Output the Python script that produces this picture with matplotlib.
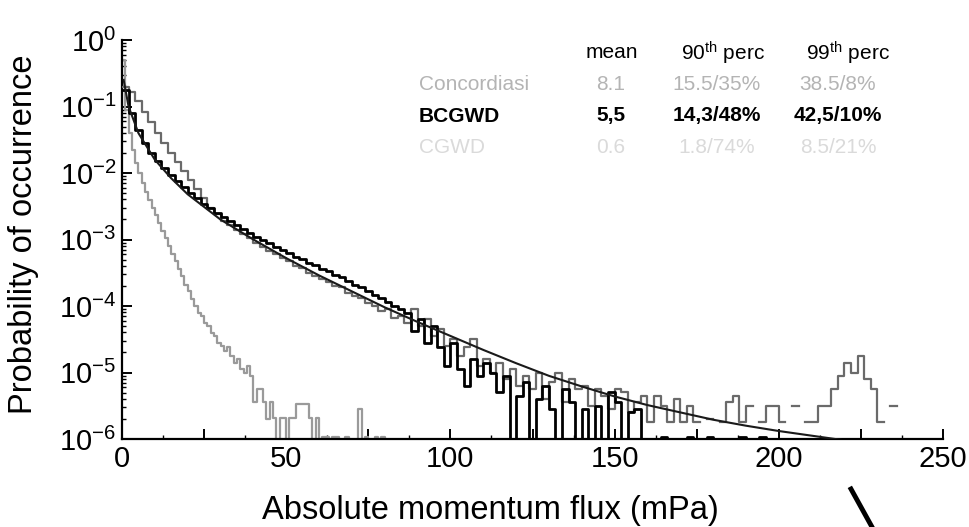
import numpy as np
import matplotlib
matplotlib.use("Agg")
import matplotlib.pyplot as plt
from matplotlib.ticker import MultipleLocator, LogLocator, FuncFormatter, NullFormatter
from matplotlib.lines import Line2D

plt.rcParams['font.family'] = ['Liberation Sans', 'DejaVu Sans']
plt.rcParams['mathtext.default'] = 'regular'

# log10 of the probability per 2 mPa bin, 0..236 mPa
bcgwd_log = [
    -0.75, -1.10, -1.35, -1.55, -1.70, -1.82, -1.93, -2.03, -2.12, -2.21,
    -2.30, -2.38, -2.46, -2.53, -2.60, -2.66, -2.72, -2.78, -2.84, -2.90,
    -2.96, -3.01, -3.06, -3.11, -3.16, -3.20, -3.26, -3.30, -3.35, -3.39,
    -3.44, -3.48, -3.53, -3.57, -3.62, -3.68, -3.72, -3.78, -3.83, -3.88,
    -3.94, -4.00, -4.05, -4.10, -4.38, -4.20, -4.55, -4.30, -4.62, -4.90,
    -4.55, -4.95, -5.20, -4.80, -5.05, -4.85, -5.00, -5.30, -5.05, -6.50,
    -5.35, -5.15, -6.50, -5.40, -5.20, -5.55, -6.50, -5.25, -5.45, -6.50,
    -5.55, -6.50, -5.50, -6.50, -5.30, -5.45, -6.50, -5.60, -5.55, -6.50,
    -6.50, -6.50, -5.97, -6.50, -6.50, -6.50, -5.97, -6.50, -6.50, -5.97,
    -6.50, -6.50, -6.50, -6.50, -5.97, -6.50, -6.50, -5.97, -6.50, -6.50,
    np.nan, np.nan, np.nan, np.nan, np.nan, np.nan, np.nan, np.nan, np.nan, np.nan,
    np.nan, np.nan, np.nan, np.nan, np.nan, np.nan, np.nan, np.nan,
]

concordiasi_log = [
    -0.70, -0.78, -0.92, -1.08, -1.24, -1.40, -1.55, -1.70, -1.84, -1.97,
    -2.10, -2.24, -2.38, -2.52, -2.62, -2.72, -2.78, -2.86, -2.92, -2.98,
    -3.05, -3.12, -3.18, -3.22, -3.28, -3.33, -3.40, -3.43, -3.50, -3.55,
    -3.60, -3.64, -3.70, -3.72, -3.80, -3.85, -3.88, -3.95, -4.00, -4.08,
    -4.05, -4.18, -4.15, -4.25, -4.05, -4.30, -4.20, -4.45, -4.35, -4.60,
    -4.50, -4.75, -4.62, -4.50, -4.90, -4.80, -5.00, -4.85, -5.10, -4.95,
    -5.20, -5.05, -5.25, -5.00, -5.40, -5.15, -5.00, -5.45, -5.10, -5.25,
    -5.20, -5.50, -5.25, -5.35, -5.55, -5.25, -5.30, -5.60, -5.45, -5.35,
    -5.75, -5.35, -5.50, -5.75, -5.40, -5.75, -5.50, -5.75, np.nan, -5.70,
    np.nan, -5.75, -5.45, -5.35, -5.75, -5.50, np.nan, -5.75, -5.50, -5.50,
    -5.75, np.nan, -5.50, np.nan, -5.75, -5.75, -5.50, -5.50, -5.25, -5.05,
    -4.85, -5.00, -4.75, -5.10, -5.25, -5.75, np.nan, -5.50,
]

# CGWD per 1 mPa bin, 0..81 mPa
cgwd_log = [
    -0.30, -1.05, -1.40, -1.65, -1.85, -2.00, -2.15, -2.28, -2.40, -2.52,
    -2.63, -2.75, -2.87, -2.98, -3.10, -3.22, -3.33, -3.45, -3.55, -3.68,
    -3.78, -3.90, -4.00, -4.10, -4.15, -4.25, -4.30, -4.40, -4.45, -4.55,
    -4.60, -4.68, -4.62, -4.75, -4.85, -4.80, -4.95, -5.00, -4.90, -5.05,
    -5.45, -5.25, -5.25, -5.45, -5.70, -5.45, -5.68, -7.00, -5.68, -5.68,
    -7.00, -5.68, -5.68, -5.47, -5.47, -5.47, -5.47, -5.68, -7.00, -5.68,
    -7.00, -5.97, -5.97, -7.00, -5.97, -5.97, -7.00, -7.00, -5.97, -7.00,
    -7.00, -7.00, -5.55, -7.00, -5.97, -7.00, -7.00, -5.97, -7.00, -5.97,
    -7.00,
]

# smooth fit through the distribution
fit_x = [0.5, 2, 5, 10, 15, 20, 30, 40, 50, 60, 70, 80, 90, 100, 110, 120,
         130, 140, 150, 160, 170, 180, 190, 200, 210, 220]
fit_log = [-0.60, -1.00, -1.40, -1.80, -2.08, -2.32, -2.70, -3.00, -3.28, -3.54,
           -3.78, -4.02, -4.24, -4.45, -4.66, -4.86, -5.05, -5.21, -5.36, -5.49,
           -5.60, -5.71, -5.80, -5.88, -5.95, -6.02]

# summary table
rows = ['Concordiasi', 'BCGWD', 'CGWD']
means = ['8.1', '5,5', '0.6']
perc90 = ['15.5/35%', '14,3/48%', '1.8/74%']
perc99 = ['38.5/8%', '42,5/10%', '8.5/21%']
row_colors = ['#b4b4b4', 'black', '#dadada']
row_weights = ['normal', 'bold', 'normal']

W, H = 969, 527
fig = plt.figure(figsize=(W / 100, H / 100), dpi=100)
ax = fig.add_axes([122 / W, 1 - 439 / H, (943 - 122) / W, (439 - 40) / H])


def draw_hist(vals, width, color, lw, z):
    v = 10.0 ** np.array(vals, dtype=float)
    edges = np.arange(len(v) + 1) * width
    ax.step(edges, np.append(v, v[-1]), where='post', color=color, lw=lw, zorder=z)


draw_hist(cgwd_log, 1, '#9a9a9a', 1.6, 2)
draw_hist(concordiasi_log, 2, '#6a6a6a', 1.6, 3)
draw_hist(bcgwd_log, 2, 'black', 2.0, 4)
ax.plot(fit_x, 10.0 ** np.array(fit_log), color='#1a1a1a', lw=1.5, zorder=5)

ax.set_yscale('log')
ax.set_xlim(0, 250)
ax.set_ylim(1e-6, 1)

for s in ['top', 'right']:
    ax.spines[s].set_visible(False)
for s in ['left', 'bottom']:
    ax.spines[s].set_linewidth(1.6)

ax.xaxis.set_major_locator(MultipleLocator(25))
ax.xaxis.set_minor_locator(MultipleLocator(12.5))
ax.xaxis.set_major_formatter(FuncFormatter(lambda v, p: '%d' % v if v % 50 == 0 else ''))
ax.yaxis.set_major_locator(LogLocator(base=10, numticks=10))
ax.yaxis.set_minor_locator(LogLocator(base=10, subs=np.arange(2, 10), numticks=10))
ax.yaxis.set_minor_formatter(NullFormatter())
ax.tick_params(which='major', direction='in', length=7, width=1.4, labelsize=21, pad=4)
ax.tick_params(which='minor', direction='in', length=3, width=1.0)

fig.text(24 / W, 1 - 234 / H, 'Probability of occurrence', rotation=90,
         ha='center', va='center', fontsize=23.5)
fig.text(490 / W, 1 - 510 / H, 'Absolute momentum flux (mPa)',
         ha='center', va='center', fontsize=23.5)

# table above the curves
hdr_y = 1 - 53 / H
fig.text(612 / W, hdr_y, 'mean', ha='center', va='center', fontsize=15)
fig.text(723 / W, hdr_y, '90$^{th}$ perc', ha='center', va='center', fontsize=15)
fig.text(848 / W, hdr_y, '99$^{th}$ perc', ha='center', va='center', fontsize=15)
for i, name in enumerate(rows):
    y = 1 - (84 + 32 * i) / H
    kw = dict(va='center', fontsize=15, color=row_colors[i], fontweight=row_weights[i])
    fig.text(419 / W, y, name, ha='left', **kw)
    fig.text(611 / W, y, means[i], ha='center', **kw)
    fig.text(717 / W, y, perc90[i], ha='center', **kw)
    fig.text(838 / W, y, perc99[i], ha='center', **kw)

fig.add_artist(Line2D([851 / W, 872 / W], [1 - 489 / H, 0.0], color='black', lw=3.5))

fig.savefig('out.png', dpi=100)
